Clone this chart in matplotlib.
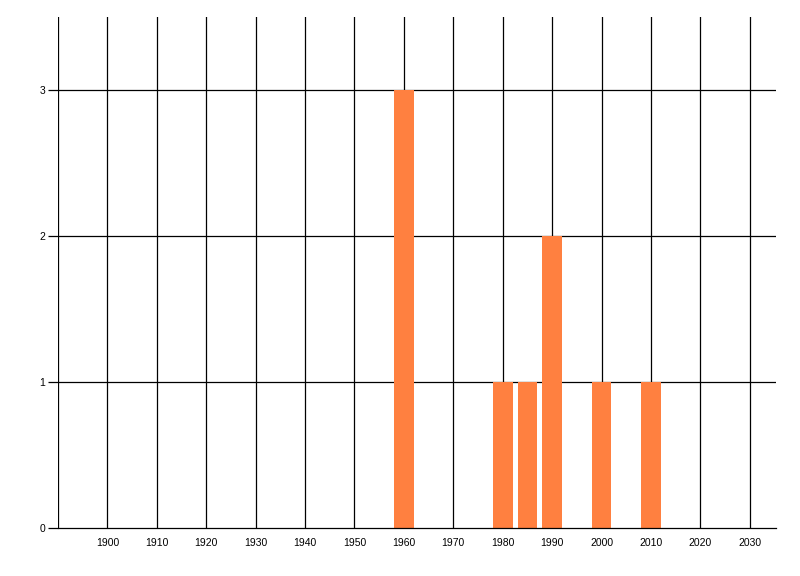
import matplotlib
matplotlib.use('Agg')
import matplotlib.pyplot as plt

# counts per year
years  = [1960, 1980, 1985, 1990, 2000, 2010]
counts = [3, 1, 1, 2, 1, 1]

x_ticks = list(range(1900, 2031, 10))
y_ticks = [0, 1, 2, 3]

plt.rcParams['font.family'] = ['Liberation Sans', 'DejaVu Sans']

fig = plt.figure(figsize=(8, 5.76), dpi=100)
ax = fig.add_axes([58/800, 48/576, (776-58)/800, (559-48)/576])

# grid lines drawn by hand-ish via axvline/axhline on tick values
for xv in [1890] + x_ticks:
    ax.axvline(xv, color='black', lw=0.9, zorder=1)
for yv in y_ticks[1:]:
    ax.axhline(yv, color='black', lw=0.9, zorder=1)

ax.bar(years, counts, width=4, color='#ff8040', zorder=2)

ax.set_xlim(1890, 2035.3)
ax.set_ylim(0, 3.5)
ax.set_xticks(x_ticks)
ax.set_yticks(y_ticks)
ax.tick_params(axis='x', length=0, pad=7, labelsize=7.5)
ax.tick_params(axis='y', length=7, width=0.9, pad=2, labelsize=7.5)

for s in ['top', 'right']:
    ax.spines[s].set_visible(False)
ax.spines['left'].set_visible(False)
ax.spines['bottom'].set_linewidth(0.9)

fig.savefig('out.png', dpi=100)
print('[+] Saved: out.png')
